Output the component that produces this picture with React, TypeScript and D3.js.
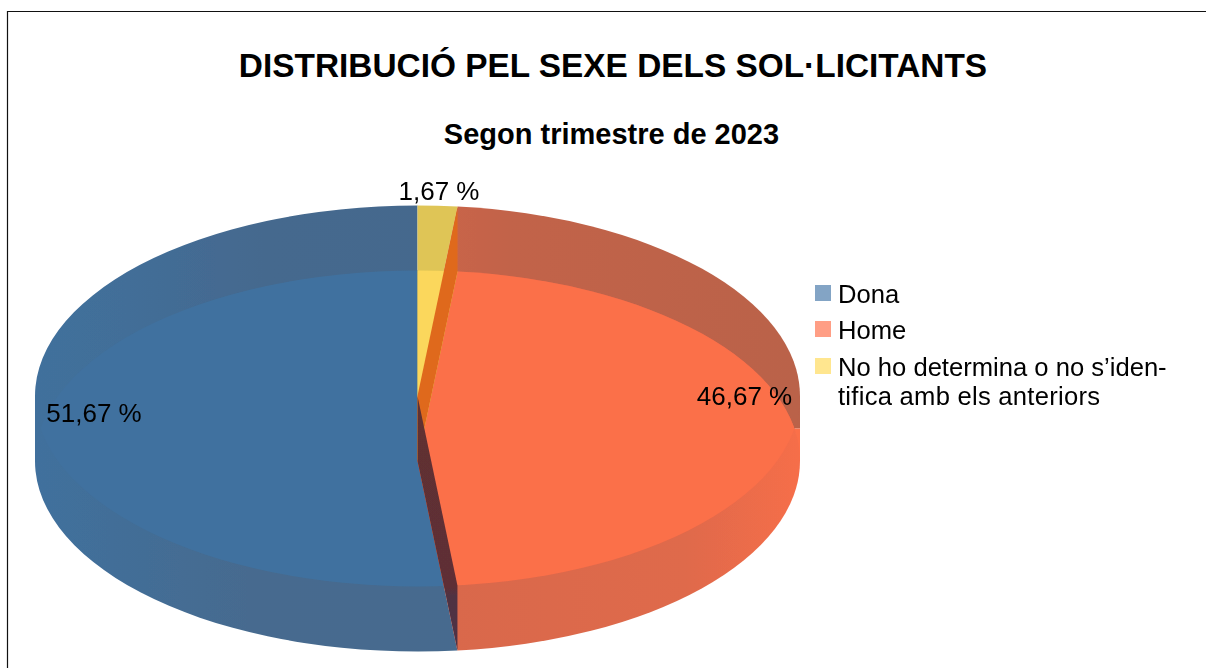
import React from "react";
import * as d3 from "d3";

const categories = ["Dona", "Home", "No ho determina o no s’identifica amb els anteriors"];
const values = [51.67, 46.67, 1.67];
const valueLabels = ["51,67 %", "46,67 %", "1,67 %"];
const legendLines = [["Dona"], ["Home"], ["No ho determina o no s’iden-", "tifica amb els anteriors"]];
const brightColors = ["#41719f", "#fb6f4a", "#fbd75b"];
const upperBandColors = ["url(#blueUpper)", "url(#orangeUpper)", "#dfc557"];
const lowerBandColors = ["url(#blueLower)", "url(#orangeLower)", "#dfc557"];
const swatchColors = ["#83a4c5", "#ff9e85", "#ffe68f"];
const labelPositions = [[94, 422], [744.5, 405], [439, 200]];
const legendY = [301, 337, 374];

const W = 1206, H = 668;
const cx = 417.5, rx = 382.5, ry = 190.5, cyA = 396, cyB = 461;
const FONT = "'Liberation Sans', Arial, sans-serif";

export default function App() {
  // Slices run counter-clockwise from 12 o'clock.
  const pie = d3.pie<number>().sort(null).startAngle(0).endAngle(-2 * Math.PI);
  const slices = pie(values);
  const arc = d3.arc<d3.PieArcDatum<number>>().innerRadius(0).outerRadius(rx);
  const px = d3.scaleLinear().domain([-1, 1]).range([cx - rx, cx + rx]);
  const wall = (angle: number) => {
    const x = px(Math.sin(angle));
    const c = -Math.cos(angle) * ry;
    return d3.line()([[cx, cyA], [cx, cyB], [x, cyB + c], [x, cyA + c]]) + "Z";
  };
  const disc = (cy: number, colors: string[], key: string) => (
    <g key={key}>
      {slices.map((s, i) => (
        <path key={i} transform={`translate(${cx},${cy}) scale(1,${ry / rx})`} d={arc(s)!} fill={colors[i]} />
      ))}
    </g>
  );
  // Disc paths are drawn around their own centre, so their gradients run from -rx to rx.
  const hGrad = (id: string, stops: [number, string][]) => (
    <linearGradient id={id} gradientUnits="userSpaceOnUse" x1={-rx} y1={0} x2={rx} y2={0}>
      {stops.map(([o, c], i) => <stop key={i} offset={o} stopColor={c} />)}
    </linearGradient>
  );
  const mid = (cyA + cyB) / 2;
  return (
    <svg width={W} height={H} viewBox={`0 0 ${W} ${H}`}
      style={{ position: "absolute", left: 0, top: 0, background: "#fff" }} fontFamily={FONT}>
      <defs>
        <clipPath id="discA"><ellipse cx={cx} cy={cyA} rx={rx} ry={ry} /></clipPath>
        <filter id="soft" x="-2%" y="-2%" width="104%" height="104%"><feGaussianBlur stdDeviation="0.7" /></filter>
        {hGrad("blueUpper", [[0, "#41709c"], [0.12, "#426e98"], [0.3, "#45698e"], [1, "#45678b"]])}
        {hGrad("blueLower", [[0, "#41709d"], [0.1, "#426e98"], [0.28, "#466b8f"], [1, "#476a8d"]])}
        {hGrad("orangeUpper", [[0.5, "#cc664a"], [0.62, "#c2634a"], [1, "#ba6249"]])}
        {hGrad("orangeLower", [[0.5, "#d8684c"], [0.85, "#df6a4b"], [1, "#f66e4a"]])}
        <linearGradient id="wallLow" gradientUnits="userSpaceOnUse" x1={0} y1={cyA} x2={0} y2={cyB + ry}>
          <stop offset={0} stopColor="#613032" />
          <stop offset={0.75} stopColor="#5e2f35" />
          <stop offset={0.78} stopColor="#503043" />
          <stop offset={1} stopColor="#4e3044" />
        </linearGradient>
      </defs>
      <path d={`M7.5 ${H}V11.5H${W}`} fill="none" stroke="#111" strokeWidth={1.2} />
      <text x={613} y={77} textAnchor="middle" fontWeight="bold" fontSize={33.4} fill="#000">DISTRIBUCIÓ PEL SEXE DELS SOL·LICITANTS</text>
      <text x={611.5} y={144} textAnchor="middle" fontWeight="bold" fontSize={29} fill="#000">Segon trimestre de 2023</text>
      <g filter="url(#soft)">
        <rect x={px(-1)} y={cyA} width={rx} height={cyB - cyA} fill="#41709c" />
        <rect x={cx} y={cyA} width={rx} height={mid - cyA} fill="#ba6249" />
        <rect x={cx} y={mid} width={rx} height={cyB - mid} fill={brightColors[1]} />
        {disc(cyA, upperBandColors, "a")}
        {disc(cyB, lowerBandColors, "b")}
        <g clipPath="url(#discA)">{disc(cyB, brightColors, "lens")}</g>
        <path d={wall(slices[2].startAngle)} fill="#df691e" />
        <path d={wall(slices[1].startAngle)} fill="url(#wallLow)" />
      </g>
      {slices.map((_, i) => (
        <text key={i} x={labelPositions[i][0]} y={labelPositions[i][1]} textAnchor="middle" fontSize={26} fill="#000">{valueLabels[i]}</text>
      ))}
      {categories.map((c, i) => (
        <g key={c}>
          <rect x={815} y={legendY[i] - 16} width={16} height={16} fill={swatchColors[i]} />
          {legendLines[i].map((l, j) => (
            <text key={j} x={838} y={legendY[i] + j * 29 + 2} fontSize={25.6} letterSpacing={j * 0.26} fill="#000">{l}</text>
          ))}
        </g>
      ))}
    </svg>
  );
}
